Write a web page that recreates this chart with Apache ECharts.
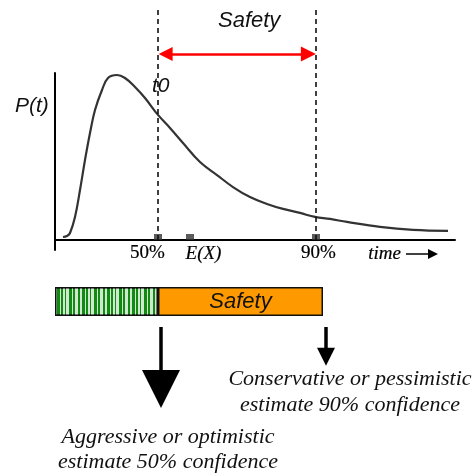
<!DOCTYPE html>
<html>
<head>
<meta charset="utf-8">
<script src="https://cdn.jsdelivr.net/npm/echarts@6/dist/echarts.min.js"></script>
<style>
  html, body { margin: 0; padding: 0; background: #fff; }
  #chart { width: 474px; height: 474px; }
</style>
</head>
<body>
<div id="chart"></div>
<script>
// curve (time units 0..100, P units 0..100)
const curveTime = [2, 3, 3.75, 5, 6.25, 7.5, 8.75, 10, 11.75, 13.25, 15.5, 17.5, 20, 22.5, 25.75, 28.75, 32, 36.25, 40.5, 44.5, 48.75, 53, 57, 61.25, 65, 68.75, 73, 81.25, 89.5, 98.25];
const curveP = [1.8, 2.4, 4.2, 13.8, 29.9, 47.9, 64.1, 77.8, 89.8, 97, 98.8, 97, 91.6, 85, 74.9, 67.1, 58.1, 46.7, 38.9, 31.7, 25.7, 21.6, 18.6, 16.2, 13.8, 12.6, 10.8, 7.8, 6, 5.4];

const markerNames = ['50%', 'E(X)', '90%'];
const markerTime = [25.75, 33.75, 65.25];

const tickLabels = ['50%', 'E(X)', '90%', 'time'];
const tickLabelTime = [23.25, 37.25, 66, 82.5];

const barCats = ['estimate'];
const aggressivePart = [25.75];
const safetyPart = [41.25];

const sans = '"Liberation Sans", Arial, sans-serif';
const serif = '"Liberation Serif", "Times New Roman", serif';

const chart = echarts.init(document.getElementById('chart'));

const option = {
  animation: false,
  grid: [
    { left: 55, right: 19, top: 73, height: 177 },
    { left: 55, right: 19, top: 287, height: 29 }
  ],
  xAxis: [
    { type: 'value', gridIndex: 0, min: 0, max: 100,
      axisLine: { onZero: true, lineStyle: { color: '#000', width: 2 } },
      axisTick: { show: false }, axisLabel: { show: false }, splitLine: { show: false } },
    { type: 'value', gridIndex: 1, min: 0, max: 100, show: false }
  ],
  yAxis: [
    { type: 'value', gridIndex: 0, min: -6, max: 100,
      axisLine: { show: true, lineStyle: { color: '#000', width: 2 } },
      axisTick: { show: false }, axisLabel: { show: false }, splitLine: { show: false } },
    { type: 'category', gridIndex: 1, data: barCats, show: false }
  ],
  series: [
    {
      type: 'line', name: 'P(t)', smooth: 0.4, showSymbol: false, clip: false,
      lineStyle: { color: '#333', width: 2.2 },
      data: curveTime.map((t, i) => [t, curveP[i]])
    },
    // dashed lines at 50% and 90%
    {
      type: 'line', showSymbol: false, clip: false,
      lineStyle: { color: '#111', width: 1.6, type: [5, 4] },
      data: [[markerTime[0], 0], [markerTime[0], 139]]
    },
    {
      type: 'line', showSymbol: false, clip: false,
      lineStyle: { color: '#111', width: 1.6, type: [5, 4] },
      data: [[markerTime[2], 0], [markerTime[2], 139]]
    },
    // markers on the axis
    {
      type: 'scatter', symbol: 'rect', symbolSize: [8, 6], symbolOffset: [0, -3], clip: false,
      itemStyle: { color: '#333' },
      data: markerTime.map((t, i) => ({ name: markerNames[i], value: [t, 0] }))
    },
    // tick labels
    {
      type: 'scatter', symbolSize: 1, clip: false, silent: true,
      itemStyle: { color: '#fff', opacity: 0 },
      label: { show: true, position: [0, 0], align: 'center', verticalAlign: 'middle',
        fontFamily: serif, fontSize: 19, color: '#000', opacity: 1,
        textBorderColor: '#000', textBorderWidth: 0.2,
        formatter: p => p.name },
      data: tickLabels.map((n, i) => ({
        name: n, value: [tickLabelTime[i], -8.4],
        label: { fontStyle: i === 0 || i === 2 ? 'normal' : 'italic' }
      }))
    },
    // arrows
    {
      type: 'lines', coordinateSystem: 'cartesian2d', clip: false, silent: true,
      symbol: ['triangle', 'triangle'], symbolSize: [14, 15],
      lineStyle: { color: '#f00', width: 2.5, opacity: 1 },
      data: [{ coords: [[markerTime[0] + 1.9, 111.4], [markerTime[2] - 1.9, 111.4]] }]
    },
    {
      type: 'lines', coordinateSystem: 'cartesian2d', clip: false, silent: true,
      symbol: ['none', 'triangle'], symbolSize: [9, 10],
      lineStyle: { color: '#000', width: 1.5, opacity: 1 },
      data: [{ coords: [[87.75, -8.4], [94.5, -8.4]] }]
    },
    {
      type: 'lines', coordinateSystem: 'cartesian2d', clip: false, silent: true,
      symbol: ['none', 'triangle'], symbolSize: [24, 38],
      lineStyle: { color: '#000', width: 3.5, opacity: 1 },
      data: [{ coords: [[26.5, -52.1], [26.5, -89.2]] }]
    },
    {
      type: 'lines', coordinateSystem: 'cartesian2d', clip: false, silent: true,
      symbol: ['none', 'triangle'], symbolSize: [22, 18],
      lineStyle: { color: '#000', width: 3.5, opacity: 1 },
      data: [{ coords: [[67.75, -52.1], [67.75, -70]] }]
    },
    // estimate bar
    {
      type: 'bar', xAxisIndex: 1, yAxisIndex: 1, stack: 'est', barWidth: 29,
      itemStyle: {
        color: '#108a10', borderColor: '#111', borderWidth: 1.5,
        decal: { symbol: 'rect', symbolSize: 1, color: 'rgba(255,255,255,0.8)',
          dashArrayX: [[3, 2, 2, 3, 1, 2, 2, 1, 3, 3, 1, 2]], dashArrayY: [40, 0], rotation: 0 }
      },
      data: aggressivePart
    },
    {
      type: 'bar', xAxisIndex: 1, yAxisIndex: 1, stack: 'est', barWidth: 29,
      itemStyle: { color: '#ff9900', borderColor: '#111', borderWidth: 1.5 },
      label: { show: true, position: 'inside', formatter: 'Safety', fontFamily: sans,
        fontStyle: 'italic', fontSize: 22, color: '#111' },
      data: safetyPart
    }
  ],
  graphic: [
    { type: 'text', left: 218, top: 10, style: { text: 'Safety', font: 'italic 22px ' + sans, fill: '#111' } },
    { type: 'text', left: 152, top: 76, style: { text: 't0', font: 'italic 21px ' + sans, fill: '#111' } },
    { type: 'text', left: 15, top: 96, style: { text: 'P(t)', font: 'italic 21px ' + sans, fill: '#111' } },
    { type: 'text', x: 350, y: 379, style: { text: 'Conservative or pessimistic', font: 'italic 22px ' + serif,
      fill: '#111', align: 'center', verticalAlign: 'middle' } },
    { type: 'text', x: 350, y: 405, style: { text: 'estimate 90% confidence', font: 'italic 22px ' + serif,
      fill: '#111', align: 'center', verticalAlign: 'middle' } },
    { type: 'text', x: 168, y: 437, style: { text: 'Aggressive or optimistic', font: 'italic 22px ' + serif,
      fill: '#111', align: 'center', verticalAlign: 'middle' } },
    { type: 'text', x: 168, y: 462, style: { text: 'estimate 50% confidence', font: 'italic 22px ' + serif,
      fill: '#111', align: 'center', verticalAlign: 'middle' } }
  ]
};

chart.setOption(option);
window.addEventListener('resize', function () {
  chart.resize();
});
</script>
</body>
</html>
